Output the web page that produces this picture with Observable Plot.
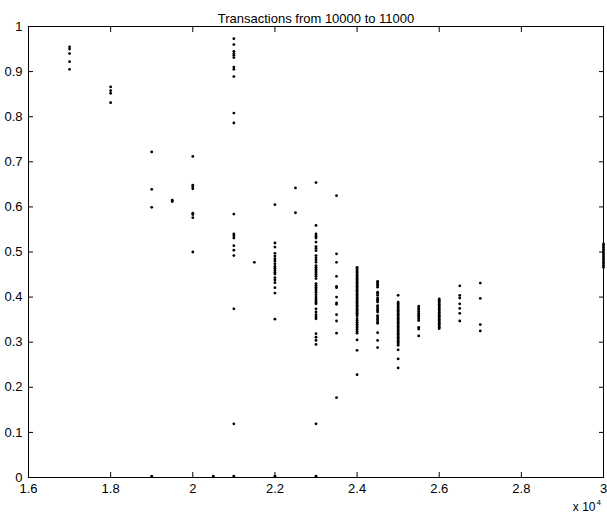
<!DOCTYPE html>
<html><head><meta charset="utf-8">
<script src="https://cdn.jsdelivr.net/npm/d3@7"></script>
<script src="https://cdn.jsdelivr.net/npm/@observablehq/plot@0.6"></script>
<style>body{margin:0;background:#fff} svg{display:block}</style>
</head><body><div id="chart"></div>
<script>
const title = "Transactions from 10000 to 11000";
const xTicks = [16000, 18000, 20000, 22000, 24000, 26000, 28000, 30000];
const yTicks = [0, 0.1, 0.2, 0.3, 0.4, 0.5, 0.6, 0.7, 0.8, 0.9, 1];

const c17000 = [0.955, 0.950, 0.940, 0.922, 0.905];
const c18000 = [0.866, 0.858, 0.852, 0.831];
const c19000 = [0.722, 0.639, 0.599, 0.003];
const c19500 = [0.615, 0.612];
const c20000 = [0.712, 0.648, 0.644, 0.640, 0.586, 0.583, 0.576, 0.500];
const c20500 = [0.003];
const c21000 = [0.973, 0.960, 0.945, 0.940, 0.936, 0.931, 0.910, 0.905, 0.889, 0.808, 0.786, 0.584, 0.540, 0.536, 0.531, 0.514, 0.504, 0.492, 0.374, 0.119, 0.003];
const c21500 = [0.477];
const c22000 = [0.605, 0.520, 0.511, 0.497, 0.491, 0.485, 0.480, 0.474, 0.468, 0.464, 0.459, 0.455, 0.451, 0.443, 0.438, 0.432, 0.421, 0.409, 0.351, 0.003];
const c22500 = [0.642, 0.587];
const c23000 = [0.654, 0.559, 0.540, 0.535, 0.531, 0.522, 0.512, 0.508, 0.503, 0.492, 0.487, 0.482, 0.477, 0.470, 0.466, 0.462, 0.458, 0.454, 0.450, 0.446, 0.441, 0.430, 0.426, 0.422, 0.418, 0.414, 0.410, 0.405, 0.400, 0.396, 0.392, 0.388, 0.385, 0.374, 0.367, 0.361, 0.356, 0.352, 0.319, 0.311, 0.304, 0.295, 0.119, 0.003];
const c23500 = [0.625, 0.496, 0.477, 0.446, 0.424, 0.421, 0.400, 0.387, 0.384, 0.361, 0.347, 0.320, 0.177];
const c24000 = [0.466, 0.463, 0.460, 0.457, 0.454, 0.451, 0.448, 0.445, 0.442, 0.439, 0.436, 0.433, 0.430, 0.427, 0.424, 0.421, 0.418, 0.415, 0.412, 0.409, 0.406, 0.403, 0.400, 0.397, 0.394, 0.391, 0.388, 0.385, 0.382, 0.379, 0.376, 0.373, 0.370, 0.367, 0.364, 0.361, 0.358, 0.352, 0.348, 0.344, 0.340, 0.336, 0.332, 0.328, 0.324, 0.320, 0.305, 0.282, 0.228];
const c24500 = [0.435, 0.432, 0.429, 0.426, 0.422, 0.411, 0.408, 0.404, 0.398, 0.395, 0.392, 0.389, 0.381, 0.378, 0.374, 0.371, 0.367, 0.359, 0.356, 0.352, 0.349, 0.345, 0.342, 0.321, 0.304, 0.288];
const c25000 = [0.404, 0.389, 0.386, 0.383, 0.380, 0.377, 0.374, 0.371, 0.368, 0.365, 0.362, 0.359, 0.356, 0.353, 0.350, 0.347, 0.344, 0.341, 0.338, 0.335, 0.332, 0.329, 0.326, 0.323, 0.320, 0.317, 0.314, 0.311, 0.308, 0.305, 0.302, 0.299, 0.296, 0.293, 0.283, 0.263, 0.243];
const c25500 = [0.380, 0.376, 0.372, 0.368, 0.364, 0.360, 0.356, 0.352, 0.348, 0.333, 0.329, 0.314];
const c26000 = [0.396, 0.393, 0.390, 0.387, 0.384, 0.381, 0.378, 0.375, 0.372, 0.369, 0.366, 0.363, 0.360, 0.357, 0.354, 0.351, 0.348, 0.345, 0.342, 0.339, 0.336, 0.333, 0.330];
const c26500 = [0.425, 0.404, 0.398, 0.385, 0.375, 0.364, 0.347];
const c27000 = [0.431, 0.397, 0.339, 0.325];
const c30000 = [0.518, 0.514, 0.510, 0.506, 0.502, 0.498, 0.494, 0.490, 0.486, 0.482, 0.478, 0.474, 0.470, 0.466];

const columns = [
  [17000, c17000], [18000, c18000], [19000, c19000], [19500, c19500], [20000, c20000],
  [20500, c20500], [21000, c21000], [21500, c21500], [22000, c22000], [22500, c22500],
  [23000, c23000], [23500, c23500], [24000, c24000], [24500, c24500], [25000, c25000],
  [25500, c25500], [26000, c26000], [26500, c26500], [27000, c27000], [30000, c30000]
];
const data = columns.flatMap(([x, ys]) => ys.map(y => ({x, y})));

const fmt = d => String(+d.toFixed(1));
const chart = Plot.plot({
  width: 607, height: 517,
  marginLeft: 28, marginRight: 4, marginTop: 26, marginBottom: 40,
  style: {fontFamily: "'Liberation Sans', Arial, Helvetica, sans-serif", fontSize: "13px", background: "#fff", color: "#000", overflow: "visible"},
  x: {domain: [16000, 30000], label: null},
  y: {domain: [0, 1], label: null},
  marks: [
    Plot.axisX(xTicks, {anchor: "bottom", tickSize: -5, tickPadding: 11, tickFormat: d => fmt(d / 10000), label: null, fontSize: 13}),
    Plot.axisX(xTicks, {anchor: "top", tickSize: -5, fill: "none", label: null}),
    Plot.axisY(yTicks, {anchor: "left", tickSize: -5, tickPadding: 11, tickFormat: fmt, label: null, fontSize: 13}),
    Plot.axisY(yTicks, {anchor: "right", tickSize: -5, fill: "none", label: null}),
    Plot.frame({stroke: "black"}),
    Plot.dot(data, {x: "x", y: "y", r: 1.4, fill: "black", stroke: null}),
    Plot.text([title], {frameAnchor: "top", dy: -13, fontSize: 13}),
    Plot.text(["x 10"], {frameAnchor: "bottom-right", textAnchor: "end", dx: -8, dy: 33, fontSize: 12}),
    Plot.text(["4"], {frameAnchor: "bottom-right", textAnchor: "start", dx: -7, dy: 27, fontSize: 8})
  ]
});
document.getElementById("chart").appendChild(chart);
</script>
</body></html>
